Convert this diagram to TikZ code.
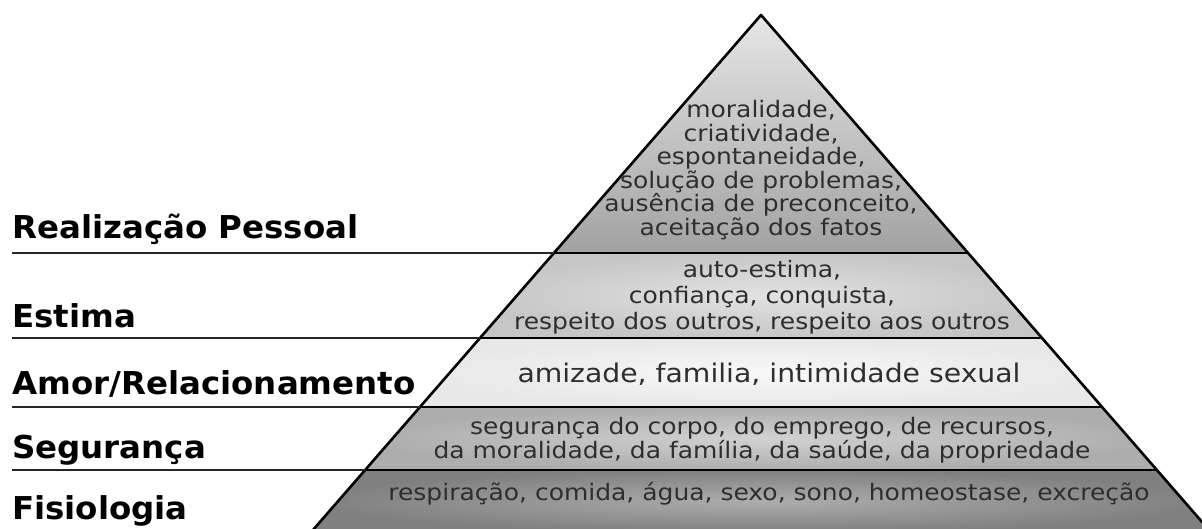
\documentclass[tikz,border=0pt]{standalone}
\usepackage{fontspec}
\setmainfont{DejaVu Sans}
\newfontfamily\bandfont[FakeStretch=1.1]{DejaVu Sans}
\newfontfamily\labelfont[FakeStretch=1.03]{DejaVu Sans}
\definecolor{txt}{HTML}{2E2E2E}
\definecolor{aTop}{HTML}{E6E6E6}
\definecolor{aBot}{HTML}{A2A2A2}
\definecolor{bIn}{HTML}{E2E2E2}
\definecolor{bOut}{HTML}{C6C6C6}
\definecolor{cIn}{HTML}{F8F8F8}
\definecolor{cOut}{HTML}{E8E8E8}
\definecolor{dIn}{HTML}{D2D2D2}
\definecolor{dOut}{HTML}{ADADAD}
\definecolor{eIn}{HTML}{ADADAD}
\definecolor{eOut}{HTML}{808080}
\begin{document}
\begin{tikzpicture}[x=1pt,y=-1pt,
  levellabel/.style={anchor=base west, inner sep=0pt, font=\labelfont\fontsize{31.5}{31.5}\selectfont\bfseries},
  bandtext/.style={align=center, inner sep=0pt, text=txt, font=\bandfont\fontsize{22.7}{23.5}\selectfont},
  guide/.style={line width=1.1pt, draw=black!85},
  bandline/.style={line width=2.6pt, line join=round}]
\useasboundingbox (0,0) rectangle (1202,528);
\fill[white] (0,0) rectangle (1202,528);
% pyramid corners
\coordinate (apex) at (761,15);
\coordinate (L1) at (553.9,253); \coordinate (R1) at (968.1,253);
\coordinate (L2) at (480.0,338); \coordinate (R2) at (1042.0,338);
\coordinate (L3) at (420.0,407); \coordinate (R3) at (1102.0,407);
\coordinate (L4) at (365.1,470); \coordinate (R4) at (1156.9,470);
\coordinate (L5) at (311.2,532); \coordinate (R5) at (1210.8,532);
% fills
\shade[top color=aTop, bottom color=aBot] (apex) -- (R1) -- (L1) -- cycle;
\shade[inner color=bIn, outer color=bOut] (L1) -- (R1) -- (R2) -- (L2) -- cycle;
\shade[inner color=cIn, outer color=cOut] (L2) -- (R2) -- (R3) -- (L3) -- cycle;
\shade[inner color=dIn, outer color=dOut] (L3) -- (R3) -- (R4) -- (L4) -- cycle;
\shade[inner color=eIn, outer color=eOut] (L4) -- (R4) -- (R5) -- (L5) -- cycle;
% outlines
\draw[bandline] (L1) -- (R1);
\draw[bandline] (L2) -- (R2);
\draw[bandline] (L3) -- (R3);
\draw[bandline] (L4) -- (R4);
\draw[bandline] (L5) -- (apex) -- (R5);
% guide lines
\coordinate (g1) at (12,253);
\coordinate (g2) at (12,338);
\coordinate (g3) at (12,407);
\coordinate (g4) at (12,470);
\draw[guide] (g1) -- (L1);
\draw[guide] (g2) -- (L2);
\draw[guide] (g3) -- (L3);
\draw[guide] (g4) -- (L4);
% level labels
\node[levellabel] (n1) at (12,238) {Realização Pessoal};
\node[levellabel] (n2) at (12,327) {Estima};
\node[levellabel] (n3) at (12,394) {Amor/Relacionamento};
\node[levellabel] (n4) at (12,458) {Segurança};
\node[levellabel] (n5) at (12,519) {Fisiologia};
% band texts
\node[bandtext] (t1) at (761,170) {moralidade,\\criatividade,\\espontaneidade,\\solução de problemas,\\ausência de preconceito,\\aceitação dos fatos};
\node[bandtext, font=\bandfont\fontsize{22.7}{25.8}\selectfont] (t2) at (762,297) {auto-estima,\\confiança, conquista,\\respeito dos outros, respeito aos outros};
\node[bandtext, font=\bandfont\fontsize{25.7}{27}\selectfont] (t3) at (769,374) {amizade, familia, intimidade sexual};
\node[bandtext] (t4) at (762,440) {segurança do corpo, do emprego, de recursos,\\da moralidade, da família, da saúde, da propriedade};
\node[bandtext] (t5) at (769,494) {respiração, comida, água, sexo, sono, homeostase, excreção};
\end{tikzpicture}
\end{document}
